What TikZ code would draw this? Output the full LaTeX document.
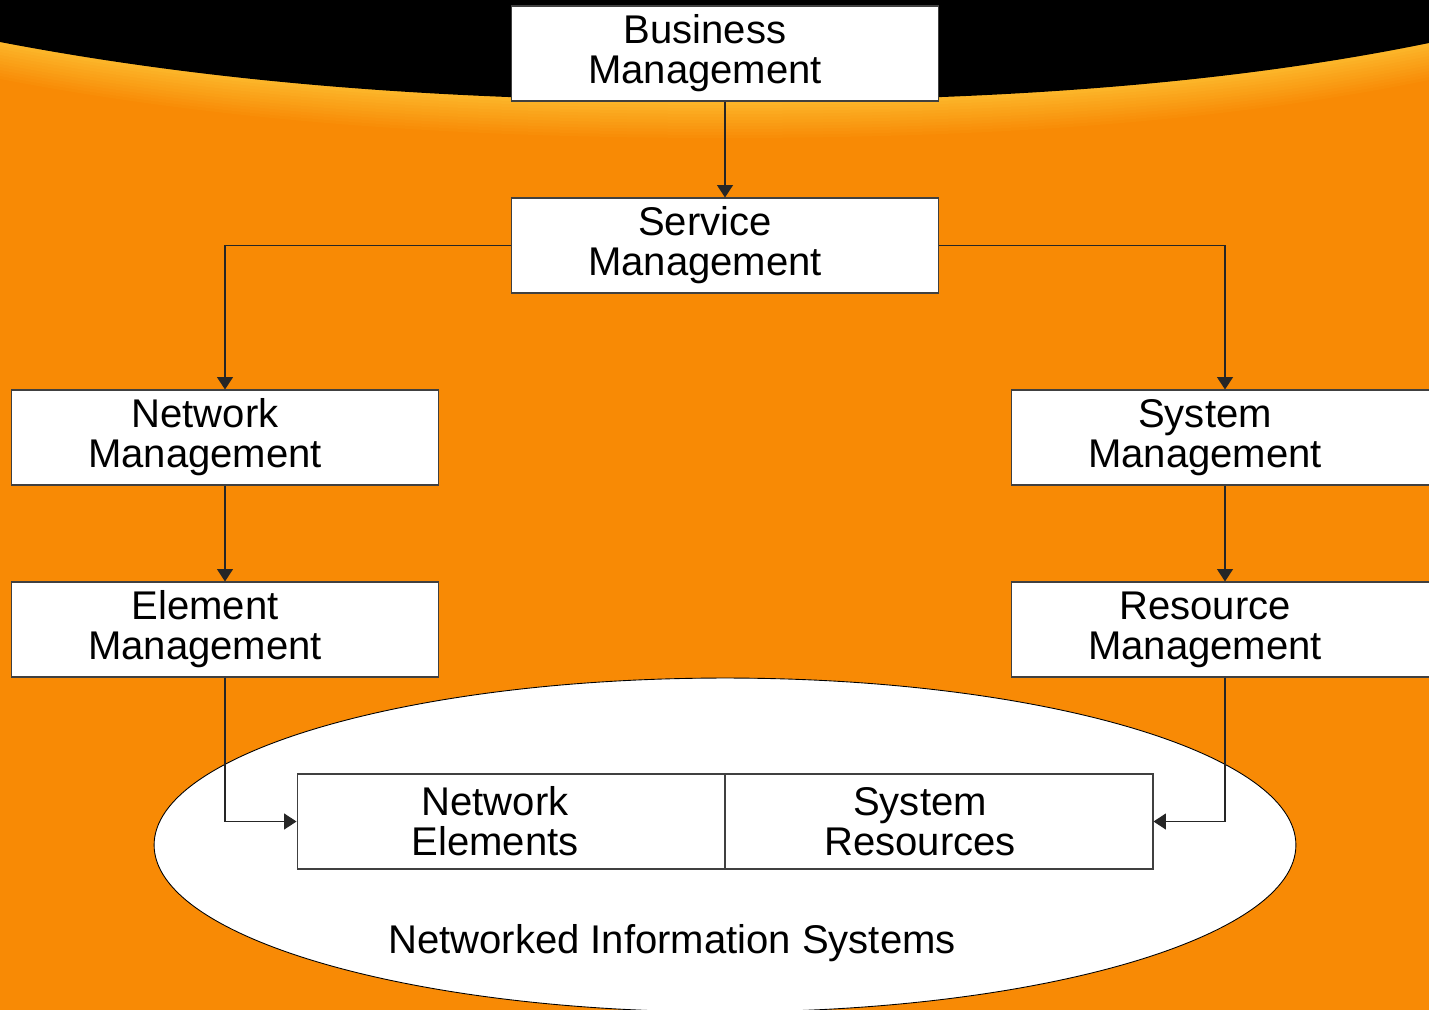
\documentclass[tikz,border=0pt]{standalone}
\usepackage{fontspec}
\setmainfont{Liberation Sans}
\usetikzlibrary{arrows.meta,shapes.geometric}
\definecolor{orng}{RGB}{248,138,5}
\definecolor{lite}{RGB}{252,184,44}
\begin{document}
\begin{tikzpicture}[x=0.02cm,y=-0.02cm,
  box/.style={draw=black!75,line width=0.6pt,fill=white,minimum width=8.56cm,minimum height=1.9cm,inner sep=0pt},
  txt/.style={align=center,font=\fontsize{22.8}{22.7}\selectfont,inner sep=0pt},
  arr/.style={draw=black!85,line width=0.6pt,-{Triangle[length=7pt,width=9pt]}}]
\useasboundingbox (0,0) rectangle (1429,1010);
\clip (0,0) rectangle (1429,1010);
% background
\fill[orng] (0,0) rectangle (1429,1010);
\foreach \d in {40,37,...,1}{
  \pgfmathsetmacro\p{100*\d/40}
  \fill[orng!\p!lite, shift={(0,\d)}] (0,-50) -- (0,42) .. controls (250,90) and (500,101) .. (725,101) .. controls (950,101) and (1200,90) .. (1429,43) -- (1429,-50) -- cycle;
}
\fill[black] (0,0) -- (0,42) .. controls (250,90) and (500,101) .. (725,101) .. controls (950,101) and (1200,90) .. (1429,43) -- (1429,0) -- cycle;
% ellipse
\node[draw=black,line width=0.5pt,fill=white,ellipse,minimum width=22.84cm,minimum height=6.68cm,inner sep=0pt] (nis) at (725,845) {};
\node[txt] (nist) at (672,943) {Networked Information Systems};
% boxes
\node[box] (bm) at (725,53.5) {};
\node[box] (sm) at (725,245.5) {};
\node[box] (nm) at (225,437.5) {};
\node[box] (em) at (225,629.5) {};
\node[box] (sys) at (1225,437.5) {};
\node[box] (rm) at (1225,629.5) {};
\node[box] (ne) at (511,821.5) {};
\node[box] (sr) at (939,821.5) {};
% texts
\begin{scope}[shift={(0,5)}]
\node[txt] (bmt) at ([xshift=-0.40cm]bm.center) {Business\\Management};
\node[txt] (smt) at ([xshift=-0.40cm]sm.center) {Service\\Management};
\node[txt] (nmt) at ([xshift=-0.40cm]nm.center) {Network\\Management};
\node[txt] (emt) at ([xshift=-0.40cm]em.center) {Element\\Management};
\node[txt] (syst) at ([xshift=-0.40cm]sys.center) {System\\Management};
\node[txt] (rmt) at ([xshift=-0.40cm]rm.center) {Resource\\Management};
\node[txt] (net) at ([xshift=-0.32cm]ne.center) {Network\\Elements};
\node[txt] (srt) at ([xshift=-0.38cm]sr.center) {System\\Resources};
\end{scope}
% connectors
\draw[arr] (bm.south) -- (sm.north);
\draw[arr] (sm.west) -| (nm.north);
\draw[arr] (sm.east) -| (sys.north);
\draw[arr] (nm.south) -- (em.north);
\draw[arr] (sys.south) -- (rm.north);
\draw[arr] (em.south) |- (ne.west);
\draw[arr] (rm.south) |- (sr.east);
\end{tikzpicture}
\end{document}
